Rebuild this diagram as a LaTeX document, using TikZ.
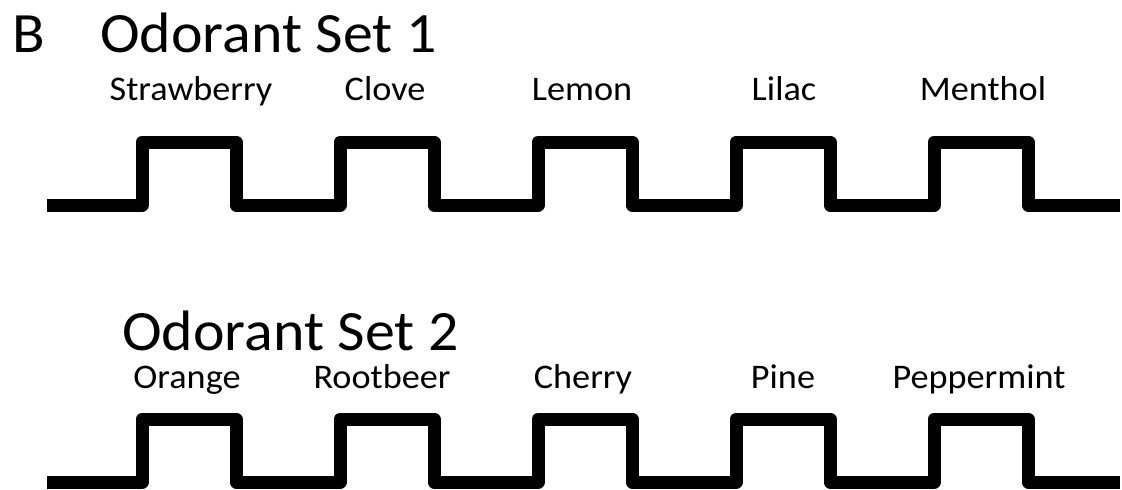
\documentclass[tikz,border=0pt]{standalone}
\usepackage{fontspec}
\setmainfont{Carlito}
\newfontfamily\widefont[FakeStretch=1.05]{Carlito}
\begin{document}
\begin{tikzpicture}[x=1pt,y=-1pt,
  wave/.style={line width=13pt, line join=round, line cap=butt, black},
  heading/.style={anchor=base west, inner sep=0pt, font=\widefont\fontsize{57}{60}\selectfont},
  odor/.style={anchor=base, inner sep=0pt, font=\widefont\fontsize{34.5}{36}\selectfont}]
\useasboundingbox (0,0) rectangle (1122,490);
% headings
\node[heading] (B) at (12,52) {B};
\node[heading] (set1) at (100,52) {Odorant Set 1};
\node[heading] (set2) at (122,350) {Odorant Set 2};
% labels set 1
\node[odor] (s1a) at (191,100) {Strawberry};
\node[odor] (s1b) at (385,100) {Clove};
\node[odor] (s1c) at (582,100) {Lemon};
\node[odor] (s1d) at (784,100) {Lilac};
\node[odor] (s1e) at (983,100) {Menthol};
% labels set 2
\node[odor] (s2a) at (187,388) {Orange};
\node[odor] (s2b) at (382,388) {Rootbeer};
\node[odor] (s2c) at (583,388) {Cherry};
\node[odor] (s2d) at (783,388) {Pine};
\node[odor] (s2e) at (979,388) {Peppermint};
% waveforms
\foreach \lo/\hi in {205/142, 482/419}{
  \draw[wave] (47,\lo) -- (142,\lo) -- (142,\hi) -- (236,\hi) -- (236,\lo)
    -- (340,\lo) -- (340,\hi) -- (434,\hi) -- (434,\lo)
    -- (538,\lo) -- (538,\hi) -- (632,\hi) -- (632,\lo)
    -- (736,\lo) -- (736,\hi) -- (830,\hi) -- (830,\lo)
    -- (934,\lo) -- (934,\hi) -- (1028,\hi) -- (1028,\lo)
    -- (1120,\lo);
}
\end{tikzpicture}
\end{document}
